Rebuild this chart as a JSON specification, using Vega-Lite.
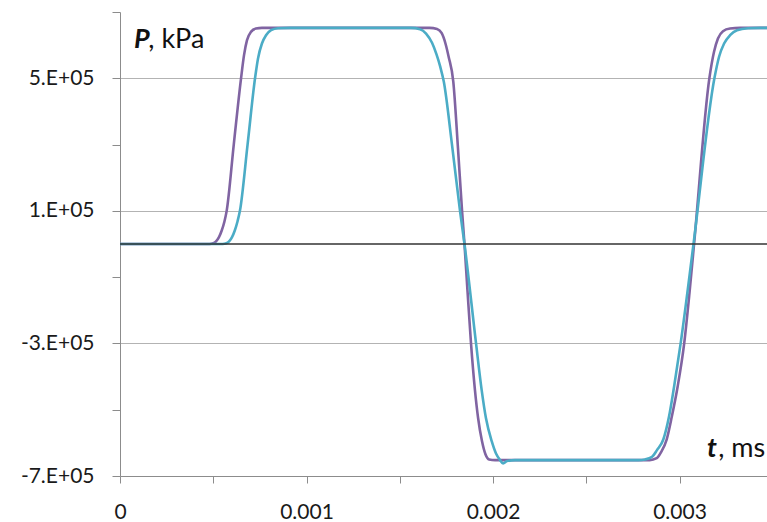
{
  "$schema": "https://vega.github.io/schema/vega-lite/v6.json",
  "width": 647,
  "height": 464,
  "autosize": {"type": "none"},
  "padding": {"left": 120, "top": 12, "right": 0, "bottom": 46},
  "background": "white",
  "config": {
    "view": {"stroke": null},
    "font": "Lato",
    "axis": {"labelFont": "Lato", "labelColor": "#1a1a1a", "domainColor": "#8c8c8c", "tickColor": "#8c8c8c", "domainWidth": 1, "tickWidth": 1}
  },
  "datasets": {
    "curves": [
      {"t": 0, "P": 0, "s": "a"},
      {"t": 0.00048, "P": 0, "s": "a"},
      {"t": 0.0005, "P": 2000, "s": "a"},
      {"t": 0.000515, "P": 8000, "s": "a"},
      {"t": 0.00053, "P": 20000, "s": "a"},
      {"t": 0.000545, "P": 40000, "s": "a"},
      {"t": 0.00056, "P": 68000, "s": "a"},
      {"t": 0.000572, "P": 100000, "s": "a"},
      {"t": 0.00061, "P": 300000, "s": "a"},
      {"t": 0.000649, "P": 500000, "s": "a"},
      {"t": 0.000665, "P": 570000, "s": "a"},
      {"t": 0.000681, "P": 615000, "s": "a"},
      {"t": 0.000702, "P": 640000, "s": "a"},
      {"t": 0.000729, "P": 650000, "s": "a"},
      {"t": 0.000761, "P": 652000, "s": "a"},
      {"t": 0.00166, "P": 652000, "s": "a"},
      {"t": 0.0017, "P": 649000, "s": "a"},
      {"t": 0.001725, "P": 636000, "s": "a"},
      {"t": 0.001745, "P": 605000, "s": "a"},
      {"t": 0.001762, "P": 565000, "s": "a"},
      {"t": 0.001787, "P": 490000, "s": "a"},
      {"t": 0.001812, "P": 290000, "s": "a"},
      {"t": 0.001834, "P": 100000, "s": "a"},
      {"t": 0.001847, "P": 0, "s": "a"},
      {"t": 0.001863, "P": -140000, "s": "a"},
      {"t": 0.001882, "P": -300000, "s": "a"},
      {"t": 0.001903, "P": -440000, "s": "a"},
      {"t": 0.00192, "P": -525000, "s": "a"},
      {"t": 0.001941, "P": -595000, "s": "a"},
      {"t": 0.00196, "P": -635000, "s": "a"},
      {"t": 0.001979, "P": -650000, "s": "a"},
      {"t": 0.002011, "P": -652000, "s": "a"},
      {"t": 0.00284, "P": -652000, "s": "a"},
      {"t": 0.002878, "P": -646000, "s": "a"},
      {"t": 0.002901, "P": -628000, "s": "a"},
      {"t": 0.002931, "P": -590000, "s": "a"},
      {"t": 0.002959, "P": -520000, "s": "a"},
      {"t": 0.00299, "P": -430000, "s": "a"},
      {"t": 0.003025, "P": -300000, "s": "a"},
      {"t": 0.003053, "P": -150000, "s": "a"},
      {"t": 0.003078, "P": 0, "s": "a"},
      {"t": 0.00316, "P": 500000, "s": "a"},
      {"t": 0.003185, "P": 580000, "s": "a"},
      {"t": 0.003206, "P": 620000, "s": "a"},
      {"t": 0.003233, "P": 642000, "s": "a"},
      {"t": 0.003271, "P": 650000, "s": "a"},
      {"t": 0.003324, "P": 652000, "s": "a"},
      {"t": 0.003469, "P": 652000, "s": "a"},
      {"t": 0, "P": 0, "s": "b"},
      {"t": 0.00055, "P": 0, "s": "b"},
      {"t": 0.00057, "P": 2000, "s": "b"},
      {"t": 0.000585, "P": 8000, "s": "b"},
      {"t": 0.0006, "P": 20000, "s": "b"},
      {"t": 0.000615, "P": 40000, "s": "b"},
      {"t": 0.00063, "P": 68000, "s": "b"},
      {"t": 0.000643, "P": 100000, "s": "b"},
      {"t": 0.000684, "P": 300000, "s": "b"},
      {"t": 0.000724, "P": 500000, "s": "b"},
      {"t": 0.00074, "P": 560000, "s": "b"},
      {"t": 0.000761, "P": 605000, "s": "b"},
      {"t": 0.000783, "P": 630000, "s": "b"},
      {"t": 0.00081, "P": 645000, "s": "b"},
      {"t": 0.000847, "P": 651000, "s": "b"},
      {"t": 0.000912, "P": 652000, "s": "b"},
      {"t": 0.00156, "P": 652000, "s": "b"},
      {"t": 0.001609, "P": 648000, "s": "b"},
      {"t": 0.001641, "P": 635000, "s": "b"},
      {"t": 0.001673, "P": 607000, "s": "b"},
      {"t": 0.001697, "P": 572000, "s": "b"},
      {"t": 0.001717, "P": 535000, "s": "b"},
      {"t": 0.001736, "P": 490000, "s": "b"},
      {"t": 0.00178, "P": 300000, "s": "b"},
      {"t": 0.001823, "P": 100000, "s": "b"},
      {"t": 0.001847, "P": 0, "s": "b"},
      {"t": 0.001909, "P": -300000, "s": "b"},
      {"t": 0.001939, "P": -440000, "s": "b"},
      {"t": 0.001962, "P": -525000, "s": "b"},
      {"t": 0.001993, "P": -595000, "s": "b"},
      {"t": 0.002016, "P": -632000, "s": "b"},
      {"t": 0.002038, "P": -652000, "s": "b"},
      {"t": 0.002054, "P": -662000, "s": "b"},
      {"t": 0.002075, "P": -655000, "s": "b"},
      {"t": 0.002118, "P": -652000, "s": "b"},
      {"t": 0.00278, "P": -652000, "s": "b"},
      {"t": 0.002815, "P": -650000, "s": "b"},
      {"t": 0.002853, "P": -642000, "s": "b"},
      {"t": 0.002879, "P": -622000, "s": "b"},
      {"t": 0.002913, "P": -590000, "s": "b"},
      {"t": 0.002944, "P": -520000, "s": "b"},
      {"t": 0.002971, "P": -430000, "s": "b"},
      {"t": 0.003006, "P": -300000, "s": "b"},
      {"t": 0.003075, "P": 0, "s": "b"},
      {"t": 0.003187, "P": 500000, "s": "b"},
      {"t": 0.003212, "P": 565000, "s": "b"},
      {"t": 0.003239, "P": 605000, "s": "b"},
      {"t": 0.003271, "P": 630000, "s": "b"},
      {"t": 0.003308, "P": 645000, "s": "b"},
      {"t": 0.003367, "P": 651000, "s": "b"},
      {"t": 0.003432, "P": 652000, "s": "b"},
      {"t": 0.003469, "P": 652000, "s": "b"}
    ],
    "labels": [
      {"label": "P", "part": "sym", "t": 0.000075, "P": 592000},
      {"label": ", kPa", "part": "unit", "t": 0.000152, "P": 592000},
      {"label": "t", "part": "sym", "t": 0.003147, "P": -642000},
      {"label": ", ms", "part": "unit", "t": 0.003207, "P": -642000}
    ]
  },
  "layer": [
    {
      "data": {"name": "curves"},
      "transform": [{"filter": "datum.s == 'a'"}],
      "mark": {"type": "line", "color": "#8064A2", "strokeWidth": 2.6, "interpolate": "monotone", "clip": true},
      "encoding": {
        "x": {
          "field": "t", "type": "quantitative",
          "scale": {"domain": [0, 0.003469], "nice": false, "zero": false},
          "axis": {
            "title": null,
            "values": [0, 0.0005, 0.001, 0.0015, 0.002, 0.0025, 0.003],
            "labelExpr": "abs(datum.value*1000 - round(datum.value*1000)) < 0.000001 ? (datum.value == 0 ? '0' : format(datum.value, '.3f')) : ''",
            "labelFontSize": 21,
            "tickSize": 7,
            "labelPadding": 18,
            "grid": false,
            "labelFlush": false,
            "labelOverlap": false
          }
        },
        "y": {
          "field": "P", "type": "quantitative",
          "scale": {"domain": [-700000, 700000], "nice": false, "zero": false},
          "axis": {
            "title": null,
            "values": [-700000, -500000, -300000, -100000, 100000, 300000, 500000, 700000],
            "labelExpr": "(round(datum.value/100000) + 7) % 4 == 0 ? round(datum.value/100000) + '.E+05' : ''",
            "labelFontSize": 21,
            "tickSize": 8,
            "labelPadding": 18,
            "grid": true,
            "gridColor": "#b3b3b3",
            "gridWidth": 1,
            "gridOpacity": {"condition": {"test": "(round(datum.value/100000) + 7) % 4 == 0 && datum.value != -700000", "value": 1}, "value": 0},
            "labelFlush": false,
            "labelOverlap": false
          }
        }
      }
    },
    {
      "data": {"name": "curves"},
      "transform": [{"filter": "datum.s == 'b'"}],
      "mark": {"type": "line", "color": "#4BACC6", "strokeWidth": 2.6, "interpolate": "monotone", "clip": true},
      "encoding": {
        "x": {"field": "t", "type": "quantitative"},
        "y": {"field": "P", "type": "quantitative"}
      }
    },
    {
      "data": {"values": [{"P": 0}]},
      "mark": {"type": "rule", "color": "#333333", "strokeWidth": 1.3},
      "encoding": {"y": {"field": "P", "type": "quantitative"}}
    },
    {
      "data": {"name": "labels"},
      "transform": [{"filter": "datum.part == 'sym'"}],
      "mark": {"type": "text", "font": "Lato", "fontSize": 27, "fontWeight": "bold", "fontStyle": "italic", "align": "left", "baseline": "alphabetic", "color": "#111111"},
      "encoding": {
        "x": {"field": "t", "type": "quantitative"},
        "y": {"field": "P", "type": "quantitative"},
        "text": {"field": "label", "type": "nominal"}
      }
    },
    {
      "data": {"name": "labels"},
      "transform": [{"filter": "datum.part == 'unit'"}],
      "mark": {"type": "text", "font": "Lato", "fontSize": 27, "align": "left", "baseline": "alphabetic", "color": "#111111"},
      "encoding": {
        "x": {"field": "t", "type": "quantitative"},
        "y": {"field": "P", "type": "quantitative"},
        "text": {"field": "label", "type": "nominal"}
      }
    }
  ]
}
